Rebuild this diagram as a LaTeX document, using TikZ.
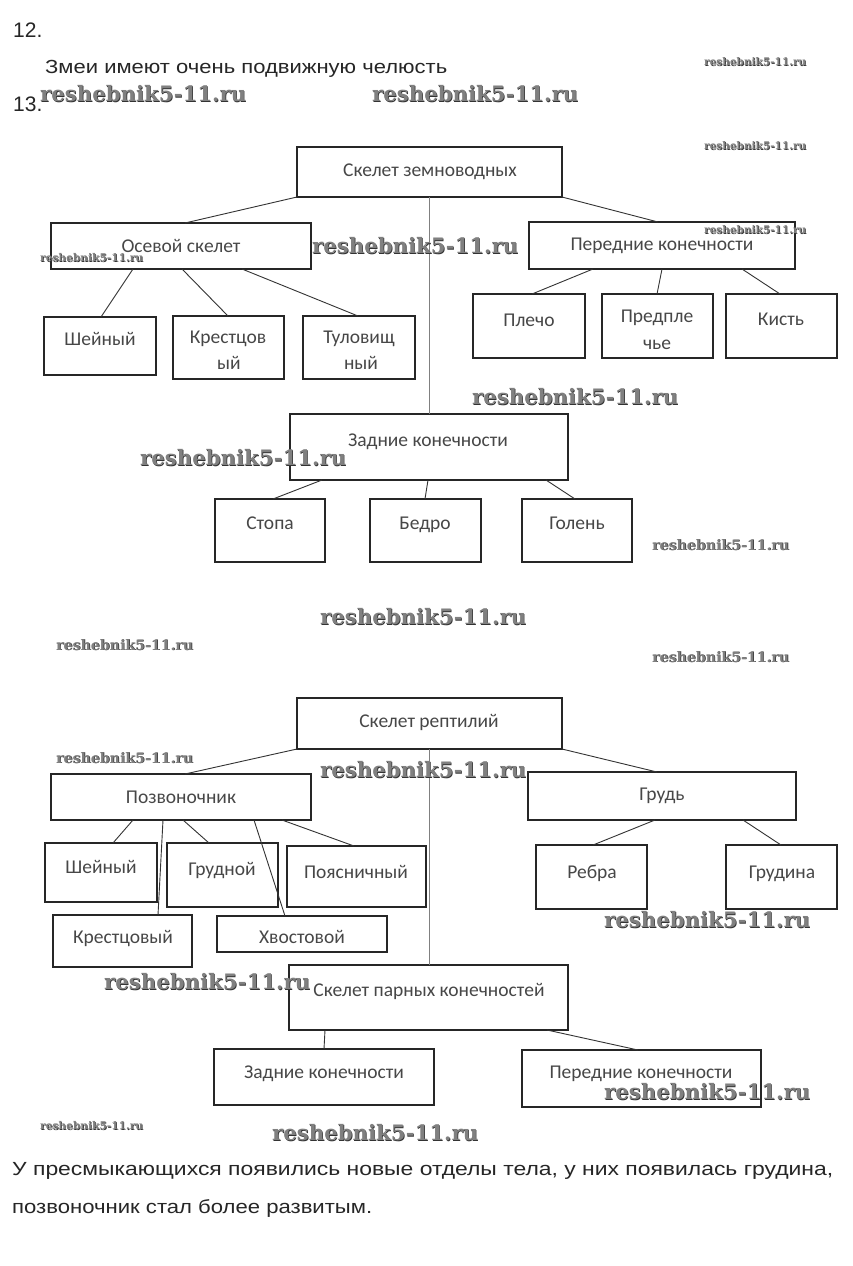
\documentclass[tikz,border=0pt]{standalone}
\usepackage{fontspec}
\setmainfont{Carlito}
\newfontfamily\bodyfont{Liberation Sans}
\newfontfamily\wmfont{DejaVu Serif}
\usetikzlibrary{calc}
\newcommand\mybox[5]{\node[box, minimum width={#4-#2}, minimum height={#5-#3}] (#1) at ({(#2+#4)/2},{(#3+#5)/2}) {};}
\newcommand\wmark[4]{\node[wmshadow] at ([xshift=0.7pt,yshift=-0.7pt]#2,#3) {\resizebox{#4pt}{!}{reshebnik5-11.ru}};
  \node[wm] (#1) at (#2,#3) {\resizebox{#4pt}{!}{reshebnik5-11.ru}};}
\newcommand\fitw[2]{\resizebox{#1pt}{\height}{#2}}
\begin{document}
\begin{tikzpicture}[x=1pt,y=-1pt,
  box/.style={draw=black!85, line width=1.8pt, inner sep=0pt, outer sep=0pt},
  lbl/.style={font=\fontsize{19.5}{22}\selectfont, text=black!72, anchor=base, inner sep=0pt},
  body/.style={font=\bodyfont\fontsize{19}{22}\selectfont, text=black!85, anchor=base west, inner sep=0pt},
  conn/.style={draw=black!80, line width=0.9pt},
  vconn/.style={draw=black!50, line width=1.4pt},
  wm/.style={text=black!50, anchor=west, inner sep=0pt, font=\wmfont\bfseries},
  wmshadow/.style={text=black!80, anchor=west, inner sep=0pt, font=\wmfont\bfseries}]
\fill[white] (0,0) rectangle (853,1266);
\useasboundingbox (0,0) rectangle (853,1266);

% body text
\node[body, font=\bodyfont\fontsize{21}{24}\selectfont] (n12) at (13,37) {12.};
\node[body] (ans12) at (45,73) {\fitw{402}{Змеи имеют очень подвижную челюсть}};
\node[body, font=\bodyfont\fontsize{21}{24}\selectfont] (n13) at (13,111) {13.};
\node[body] (concl1) at (12,1175) {\fitw{821}{У пресмыкающихся появились новые отделы тела, у них появилась грудина,}};
\node[body] (concl2) at (12,1213) {\fitw{360}{позвоночник стал более развитым.}};

% ---------- amphibians ----------
\mybox{s1}{297}{147}{562}{197}
\mybox{os}{51}{223}{311}{269}
\mybox{pk}{529}{222}{795}{269}
\mybox{sh}{44}{317}{156}{375}
\mybox{kr}{173}{316}{284}{379}
\mybox{tu}{303}{316}{415}{379}
\mybox{pl}{473}{294}{585}{358}
\mybox{pr}{602}{294}{713}{358}
\mybox{ki}{726}{294}{837}{358}
\mybox{zk}{290}{414}{568}{480}
\mybox{st}{215}{499}{325}{562}
\mybox{be}{370}{499}{481}{562}
\mybox{go}{522}{499}{632}{562}

\node[lbl] (s1t) at (430,176) {Скелет земноводных};
\node[lbl] (ost) at (181,252) {Осевой скелет};
\node[lbl] (pkt) at (662,250) {Передние конечности};
\node[lbl] (sht) at (100,345) {Шейный};
\node[lbl] (krt1) at (228,343) {Крестцов};
\node[lbl] (krt2) at (229,369) {ый};
\node[lbl] (tut1) at (359,343) {Туловищ};
\node[lbl] (tut2) at (361,369) {ный};
\node[lbl] (plt) at (529,326) {Плечо};
\node[lbl] (prt1) at (657,322) {Предпле};
\node[lbl] (prt2) at (657,349) {чье};
\node[lbl] (kit) at (781,325) {Кисть};
\node[lbl] (zkt) at (428,446) {Задние конечности};
\node[lbl] (stt) at (270,529) {Стопа};
\node[lbl] (bet) at (425,529) {Бедро};
\node[lbl] (got) at (577,529) {Голень};

\draw[conn] (s1.south west) -- ([xshift=134pt]os.north west);
\draw[conn] (s1.south east) -- ([xshift=129pt]pk.north west);
\draw[vconn] (s1.south) -- (s1.south |- zk.north);
\draw[conn] ([xshift=82pt]os.south west) -- ([xshift=57pt]sh.north west);
\draw[conn] ([xshift=131pt]os.south west) -- ([xshift=55pt]kr.north west);
\draw[conn] ([xshift=191pt]os.south west) -- ([xshift=55pt]tu.north west);
\draw[conn] ([xshift=64pt]pk.south west) -- ([xshift=59pt]pl.north west);
\draw[conn] ([xshift=133pt]pk.south west) -- ([xshift=55pt]pr.north west);
\draw[conn] ([xshift=213pt]pk.south west) -- ([xshift=54pt]ki.north west);
\draw[conn] ([xshift=32pt]zk.south west) -- ([xshift=58pt]st.north west);
\draw[conn] ([xshift=138pt]zk.south west) -- ([xshift=55pt]be.north west);
\draw[conn] ([xshift=256pt]zk.south west) -- ([xshift=53pt]go.north west);

% ---------- reptiles ----------
\mybox{s2}{297}{698}{562}{749}
\mybox{po}{51}{774}{311}{820}
\mybox{gr}{528}{772}{796}{820}
\mybox{shb}{45}{843}{157}{902}
\mybox{gd}{167}{843}{278}{907}
\mybox{pn}{287}{846}{426}{907}
\mybox{krb}{53}{915}{192}{967}
\mybox{hv}{217}{916}{387}{952}
\mybox{rb}{536}{845}{647}{909}
\mybox{gn}{726}{845}{837}{909}
\mybox{sp}{289}{965}{568}{1030}
\mybox{zkb}{214}{1049}{434}{1105}
\mybox{pkb}{522}{1050}{761}{1107}

\node[lbl] (s2t) at (429,727) {Скелет рептилий};
\node[lbl] (pot) at (181,803) {Позвоночник};
\node[lbl] (grt) at (662,800) {Грудь};
\node[lbl] (shbt) at (101,873) {Шейный};
\node[lbl] (gdt) at (222,875) {Грудной};
\node[lbl] (pnt) at (356,878) {Поясничный};
\node[lbl] (krbt) at (123,943) {Крестцовый};
\node[lbl] (hvt) at (302,943) {Хвостовой};
\node[lbl] (rbt) at (592,878) {Ребра};
\node[lbl] (gnt) at (782,878) {Грудина};
\node[lbl] (spt) at (429,996) {Скелет парных конечностей};
\node[lbl] (zkbt) at (324,1078) {Задние конечности};
\node[lbl] (pkbt) at (641,1078) {Передние конечности};

\draw[conn] (s2.south west) -- ([xshift=134pt]po.north west);
\draw[conn] (s2.south east) -- ([xshift=129pt]gr.north west);
\draw[vconn] (s2.south) -- (s2.south |- sp.north);
\draw[conn] ([xshift=82pt]po.south west) -- ([xshift=68pt]shb.north west);
\draw[conn] ([xshift=112pt]po.south west) -- ([xshift=105pt]krb.north west);
\draw[conn] ([xshift=132pt]po.south west) -- ([xshift=42pt]gd.north west);
\draw[conn] ([xshift=203pt]po.south west) -- ([xshift=68pt]hv.north west);
\draw[conn] ([xshift=231pt]po.south west) -- ([xshift=67pt]pn.north west);
\draw[conn] ([xshift=127pt]gr.south west) -- ([xshift=57pt]rb.north west);
\draw[conn] ([xshift=215pt]gr.south west) -- ([xshift=55pt]gn.north west);
\draw[conn] ([xshift=36pt]sp.south west) -- ([xshift=110pt]zkb.north west);
\draw[conn] ([xshift=258pt]sp.south west) -- ([xshift=116pt]pkb.north west);

% ---------- watermarks ----------
\wmark{w1}{704}{62}{102}
\wmark{w2}{40}{94}{206}
\wmark{w3}{372}{94}{206}
\wmark{w4}{704}{146}{102}
\wmark{w5}{704}{230}{102}
\wmark{w6}{312}{246}{206}
\wmark{w7}{40}{258}{103}
\wmark{w8}{472}{397}{206}
\wmark{w9}{140}{458}{206}
\wmark{w10}{652}{545}{137}
\wmark{w11}{320}{617}{206}
\wmark{w12}{56}{645}{137}
\wmark{w13}{652}{657}{137}
\wmark{w14}{56}{758}{137}
\wmark{w15}{320}{770}{206}
\wmark{w16}{604}{920}{206}
\wmark{w17}{104}{982}{206}
\wmark{w18}{604}{1092}{206}
\wmark{w19}{40}{1126}{103}
\wmark{w20}{272}{1133}{206}
\end{tikzpicture}
\end{document}
